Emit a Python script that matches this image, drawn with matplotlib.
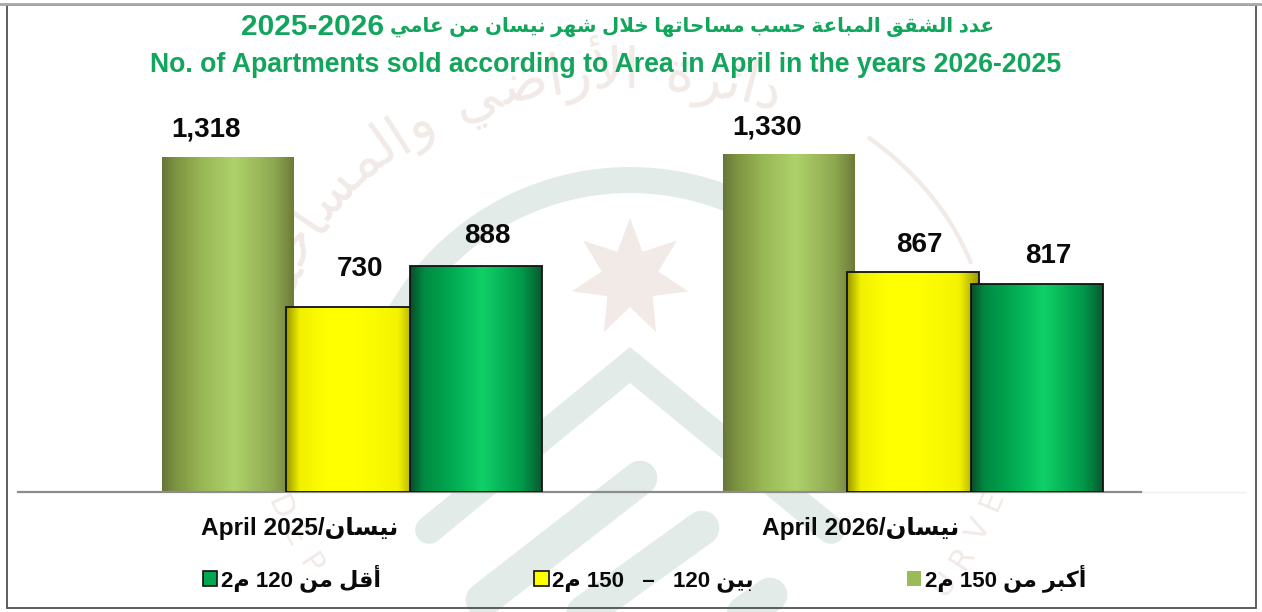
import matplotlib
matplotlib.use("Agg")
import matplotlib.pyplot as plt
import numpy as np
from matplotlib.colors import LinearSegmentedColormap
from matplotlib.patches import Patch, Polygon, Rectangle, Wedge
from matplotlib.font_manager import FontProperties
from matplotlib.transforms import ScaledTranslation

W, H = 1262, 612
FONT = ["Liberation Sans", "DejaVu Sans"]

# arabic letters: isolated, final, initial, medial
FORMS = {
    "ا": "\ufe8d\ufe8e", "أ": "\ufe83\ufe84", "ئ": "\ufe89\ufe8a\ufe8b\ufe8c",
    "ب": "\ufe8f\ufe90\ufe91\ufe92", "ت": "\ufe95\ufe96\ufe97\ufe98",
    "ة": "\ufe93\ufe94", "ح": "\ufea1\ufea2\ufea3\ufea4",
    "خ": "\ufea5\ufea6\ufea7\ufea8", "د": "\ufea9\ufeaa", "ر": "\ufead\ufeae",
    "س": "\ufeb1\ufeb2\ufeb3\ufeb4", "ش": "\ufeb5\ufeb6\ufeb7\ufeb8",
    "ض": "\ufebd\ufebe\ufebf\ufec0", "ع": "\ufec9\ufeca\ufecb\ufecc",
    "ق": "\ufed5\ufed6\ufed7\ufed8", "ك": "\ufed9\ufeda\ufedb\ufedc",
    "ل": "\ufedd\ufede\ufedf\ufee0", "م": "\ufee1\ufee2\ufee3\ufee4",
    "ن": "\ufee5\ufee6\ufee7\ufee8", "ه": "\ufee9\ufeea\ufeeb\ufeec",
    "و": "\ufeed\ufeee", "ي": "\ufef1\ufef2\ufef3\ufef4",
}
LIGATURES = {"ا": "\ufefb\ufefc", "أ": "\ufef7\ufef8"}


def ar(text):
    # matplotlib does no arabic shaping, so pick the joined forms by hand
    out = []
    i = 0
    while i < len(text):
        c = text[i]
        if c not in FORMS:
            out.append(c)
            i += 1
            continue
        prev = text[i - 1] if i > 0 else " "
        joins_prev = prev in FORMS and len(FORMS[prev]) == 4
        if c == "ل" and i + 1 < len(text) and text[i + 1] in LIGATURES:
            out.append(LIGATURES[text[i + 1]][1 if joins_prev else 0])
            i += 2
            continue
        nxt = text[i + 1] if i + 1 < len(text) else " "
        joins_next = len(FORMS[c]) == 4 and nxt in FORMS
        if joins_prev and joins_next:
            form = 3
        elif joins_next:
            form = 2
        elif joins_prev:
            form = 1
        else:
            form = 0
        out.append(FORMS[c][form])
        i += 1
    return "".join(reversed(out))


groups = ["April 2025/" + ar("نيسان"), "April 2026/" + ar("نيسان")]
over_150 = [1318, 1330]
between_120_150 = [730, 867]
under_120 = [888, 817]
legend_labels = [
    "2" + ar("م") + " 120 " + ar("أقل من"),
    "2" + ar("م") + " 150   –   120 " + ar("بين"),
    "2" + ar("م") + " 150 " + ar("أكبر من"),
]
title_years = "2025-2026"
title_ar = ar("عدد الشقق المباعة حسب مساحاتها خلال شهر نيسان من عامي")
title_en = "No. of Apartments sold according to Area in April in the years 2026-2025"

# label shifts from the top centre of each bar, in pixels
label_shift_over = [(-22, 28), (-22, 27)]
label_shift_mid = [(8, 38), (6, 27)]
label_shift_under = [(11, 30), (11, 28)]

fig = plt.figure(figsize=(W / 100, H / 100), dpi=100, facecolor="white")

# page layer in pixel coordinates: frame and pale logo behind the chart
bg = fig.add_axes([0, 0, 1, 1])
bg.set_xlim(0, W)
bg.set_ylim(H, 0)
bg.axis("off")

pale_green = "#e2ebe8"
pale_rose = "#f1eae6"

bg.add_patch(Wedge((630, 445), 278, 180, 360, width=26, facecolor=pale_green, edgecolor="none", zorder=1))

angles = np.deg2rad(90 + np.arange(14) * 360 / 14)
radii = np.where(np.arange(14) % 2 == 0, 60, 29)
star = np.column_stack([630 + radii * np.cos(angles), 278 - radii * np.sin(angles)])
bg.add_patch(Polygon(star, closed=True, facecolor=pale_rose, edgecolor="none", zorder=1))

bg.plot([429, 630, 831], [530, 365, 530], color=pale_green, lw=20,
        solid_capstyle="round", solid_joinstyle="miter", zorder=1)
for band in [((640, 483), (478, 600)), ((702, 574), (528, 620)), ((770, 720), (595, 630))]:
    bg.plot(band[0], band[1], color=pale_green, lw=25, solid_capstyle="round", zorder=1)

# thin ring line on the right of the seal
t = np.deg2rad(np.linspace(18, 48, 40))
bg.plot(630 + 358 * np.cos(t), 350 - 285 * np.sin(t), color=pale_rose, lw=3, zorder=1)


def ring_arabic(text, start, size):
    prop = FontProperties(family="DejaVu Sans", size=size)
    renderer = fig.canvas.get_renderer()
    a, b = 345, 262
    t = np.deg2rad(start)
    for glyph in ar(text):
        tmp = bg.text(0, 0, glyph, fontproperties=prop)
        adv = tmp.get_window_extent(renderer).width if glyph != " " else size * 0.6
        tmp.remove()
        speed = np.hypot(a * np.sin(t), b * np.cos(t))
        t_mid = t - adv / 2 / speed
        rot = np.degrees(np.arctan2(-b * np.cos(t_mid), a * np.sin(t_mid)))
        if glyph != " ":
            bg.text(630 + a * np.cos(t_mid), 350 - b * np.sin(t_mid), glyph, fontproperties=prop,
                    color=pale_rose, rotation=rot, rotation_mode="anchor",
                    ha="center", va="baseline", zorder=1)
        t -= adv / speed


ring_arabic("دائرة الأراضي والمساحة", 168, 40)

ring_en = "DEPARTMENT OF LANDS AND SURVEY"
for ch, deg in zip(ring_en, np.linspace(204, 342, len(ring_en))):
    t = np.deg2rad(deg)
    x = 634 + 397 * np.cos(t)
    y = 350 - 397 * np.sin(t)
    if ch != " " and y < 592:
        bg.text(x, y, ch, family="DejaVu Sans", fontsize=22, color=pale_rose,
                rotation=np.degrees(np.arctan2(np.cos(t), -np.sin(t))),
                rotation_mode="anchor", ha="center", va="baseline", zorder=1)

bg.add_patch(Rectangle((6.5, 5), 1249.5, 603, facecolor="none", edgecolor="#505050", lw=1.3, zorder=2))
bg.plot([0, W], [4, 4], color="#a8a8a8", lw=2, zorder=2)
bg.plot([1141, 1245], [492, 492], color="#eeeeee", lw=1, zorder=2)

# chart layer
left, right, base, top = 18, 1141, 492, 100
ax = fig.add_axes([left / W, 1 - base / H, (right - left) / W, (base - top) / H])
ax.patch.set_alpha(0)

px_per_group = 561
px_per_unit = 0.254
bar_w = 132 / px_per_group
step = 124 / px_per_group
x = np.arange(len(groups))

stops = [0, 0.1, 0.3, 0.55, 0.85, 1]
ramps = [
    ["#66763a", "#7d9340", "#98b755", "#aed26b", "#8fa850", "#6d7c38"],
    ["#9c9800", "#f0f000", "#ffff00", "#ffff00", "#f4f400", "#9c9800"],
    ["#0a4d2a", "#008a42", "#00a850", "#10d068", "#009a4a", "#0a5a30"],
]
series = [over_150, between_120_150, under_120]
edges = ["none", "#111111", "#111111"]
shifts = [label_shift_over, label_shift_mid, label_shift_under]

for i, values in enumerate(series):
    cmap = LinearSegmentedColormap.from_list("bar%d" % i, list(zip(stops, ramps[i])))
    pos = x + (i - 1) * step
    bars = ax.bar(pos, values, width=bar_w, facecolor="none", edgecolor=edges[i],
                  linewidth=1.3, zorder=3 + i * 2)
    for rect, value, xpos, shift in zip(bars, values, pos, shifts[i]):
        im = ax.imshow(np.linspace(0, 1, 128).reshape(1, -1), cmap=cmap, aspect="auto",
                       extent=[xpos - bar_w / 2, xpos + bar_w / 2, 0, value], zorder=2.5 + i * 2)
        im.set_clip_path(rect)
        ax.annotate(f"{value:,}", (xpos, value), xytext=(shift[0] * 0.72, shift[1] * 0.72),
                    textcoords="offset points", ha="center", va="center",
                    fontsize=20, fontweight="bold", family=FONT, color="#0a0a0a", zorder=20)

ax.set_xlim((left - 352) / px_per_group, (right - 352) / px_per_group)
ax.set_ylim(0, (base - top) / px_per_unit)
ax.set_yticks([])
ax.set_xticks(x)
ax.set_xticklabels(groups, fontsize=17.6, fontweight="bold", family=FONT, color="#0a0a0a")
ax.tick_params(axis="x", length=0, pad=18)
shift_left = ScaledTranslation(-52 / 100, 0, fig.dpi_scale_trans)
for lab in ax.get_xticklabels():
    lab.set_transform(lab.get_transform() + shift_left)
for side in ["top", "left", "right"]:
    ax.spines[side].set_visible(False)
ax.spines["bottom"].set_color("#8c8c8c")
ax.spines["bottom"].set_linewidth(1.6)

handles = [
    Patch(facecolor="#00a650", edgecolor="#111111", linewidth=1.2),
    Patch(facecolor="#ffff00", edgecolor="#111111", linewidth=1.2),
    Patch(facecolor="#9bbb59", edgecolor="none"),
]
ax.legend(handles, legend_labels, ncol=3, frameon=False, loc="center",
          bbox_to_anchor=(644.5 / W, 1 - 578 / H), bbox_transform=fig.transFigure,
          prop=FontProperties(family=FONT, weight="bold", size=16),
          handlelength=0.65, handleheight=0.65, handletextpad=0.15,
          columnspacing=6.9, borderpad=0, labelcolor="#0a0a0a")

fig.text(384 / W, 1 - 27 / H, title_years, ha="right", va="center", fontsize=21.5,
         fontweight="bold", family=FONT, color="#12a55c")
fig.text(390 / W, 1 - 27 / H, title_ar, ha="left", va="center", fontsize=14.3,
         fontweight="bold", family=FONT, color="#12a55c")
fig.text(605.5 / W, 1 - 65 / H, title_en, ha="center", va="center", fontsize=19.2,
         fontweight="bold", family=FONT, color="#12a55c")

fig.savefig("out.png", dpi=100)
